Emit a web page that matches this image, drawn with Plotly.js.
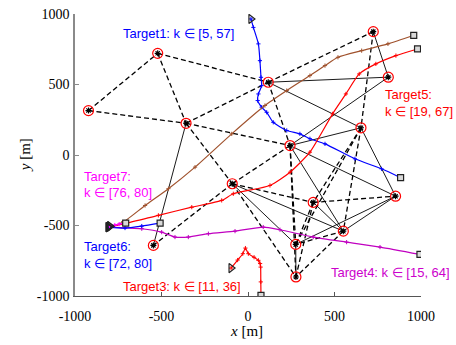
<!DOCTYPE html>
<html><head><meta charset="utf-8">
<script src="https://cdn.plot.ly/plotly-3.0.1.min.js"></script>
<style>html,body{margin:0;padding:0;background:#fff}#chart{width:456px;height:345px}</style>
</head><body><div id="chart"></div>
<script>
// sensors
const sensorX = [-922, -522, -358, 117, 724, 811, 653, 243, -91, 377, 551, 853, 276, 277, -547];
const sensorY = [315, 721, 225, 516, 875, 552, 193, 67, -204, -336, -540, -292, -634, -865, -641];
// links (1-based sensor indices)
const dashedEdges = [[1,2],[1,3],[2,3],[2,4],[3,4],[3,8],[3,9],[4,5],[4,8],[5,7],[7,11],[7,10],[8,9],[8,13],[8,14],[9,10],[9,14],[9,15],[10,12],[10,13],[10,14],[11,13],[11,14],[7,13]];
const solidEdges = [[3,15],[4,6],[4,7],[5,6],[6,8],[7,8],[7,12],[8,11],[8,12],[9,11],[9,13],[11,12],[12,13],[13,14],[10,11]];
// target tracks
const t1X = [17, 31, 60, 69, 75, 79, 60, 56, 79, 108, 146, 224, 300, 358, 445, 618, 772, 882];
const t1Y = [965, 905, 788, 669, 551, 492, 433, 386, 339, 303, 232, 174, 150, 115, 79, -27, -98, -161];
const t2X = [-797, -730, -595, -460, -306, -94, 98, 224, 358, 445, 520, 657, 809, 958];
const t2Y = [-506, -483, -358, -239, -86, 150, 351, 457, 563, 634, 693, 740, 788, 849];
const t3X = [-98, -60, -30, -15, 2, 35, 60, 70, 73, 74, 75];
const t3Y = [-802, -745, -700, -660, -700, -725, -747, -770, -795, -900, -995];
const t4X = [-809, -614, -499, -422, -345, -229, -75, 88, 185, 377, 570, 763, 994];
const t4Y = [-511, -523, -547, -582, -582, -558, -540, -511, -530, -582, -618, -653, -705];
const t5X = [-807, -711, -518, -325, -152, -85, 127, 243, 358, 489, 566, 643, 739, 855, 980];
const t5Y = [-511, -487, -428, -370, -322, -275, -216, -122, 20, 292, 433, 575, 646, 705, 752];
const t6X = [-807, -711, -614, -508];
const t6Y = [-511, -518, -504, -483];
const t7X = [-800, -770, -745, -725, -707];
const t7Y = [-505, -497, -490, -485, -483];
const tickVals = [-1000, -500, 0, 500, 1000];
const tickText = ['-1000', '-500', '0', '500', '1000'];

const tracks = [
  {x: t1X, y: t1Y, c: '#0000FF'},
  {x: t2X, y: t2Y, c: '#A0522D'},
  {x: t3X, y: t3Y, c: '#FF0000'},
  {x: t4X, y: t4Y, c: '#C000C0'},
  {x: t5X, y: t5Y, c: '#FF0000'},
  {x: t6X, y: t6Y, c: '#0000FF'},
  {x: t7X, y: t7Y, c: '#FF00FF'}
];

function edgeCoords(edges) {
  const xs = [], ys = [];
  edges.forEach(e => {
    xs.push(sensorX[e[0]-1], sensorX[e[1]-1], null);
    ys.push(sensorY[e[0]-1], sensorY[e[1]-1], null);
  });
  return {xs, ys};
}
const d = edgeCoords(dashedEdges), s = edgeCoords(solidEdges);
const traces = [
  {x: d.xs, y: d.ys, mode: 'lines', line: {color: '#000', width: 1.3, dash: '5px,3px'}, hoverinfo: 'skip'},
  {x: s.xs, y: s.ys, mode: 'lines', line: {color: '#000', width: 0.9}, hoverinfo: 'skip'}
];
tracks.forEach(t => {
  traces.push({x: t.x, y: t.y, mode: 'lines+markers', line: {color: t.c, width: 1.2, shape: 'spline', smoothing: 0.6},
    marker: {symbol: 'cross-thin-open', size: 3, line: {color: t.c, width: 1}}});
});
traces.push({x: tracks.map(t => t.x[0]), y: tracks.map(t => t.y[0]), mode: 'markers',
  marker: {symbol: 'triangle-right-open', size: 8, color: '#222', line: {width: 1.2}}});
traces.push({x: tracks.map(t => t.x[t.x.length-1]), y: tracks.map(t => t.y[t.y.length-1]), mode: 'markers',
  marker: {symbol: 'square', size: 6, color: '#d9d9d9', line: {color: '#222', width: 1.2}}});
traces.push({x: sensorX, y: sensorY, mode: 'markers',
  marker: {symbol: 'circle-open', size: 10, color: '#FF0000', line: {width: 1.2}}});
traces.push({x: sensorX, y: sensorY, mode: 'markers',
  marker: {symbol: 'asterisk-open', size: 5, color: '#000', line: {width: 1.1}}});

const tf = {family: 'Liberation Sans, Arial, sans-serif', size: 13};
function ann(x, y, text, color) {
  return {x, y, xref: 'x', yref: 'y', text, showarrow: false, xanchor: 'left', yanchor: 'middle',
    font: Object.assign({}, tf, {color})};
}
const serif = 'Liberation Serif, Times New Roman, serif';
const annotations = [
  ann(-734, 860, 'Target1: k ∈ [5, 57]', '#0000FF'),
  ann(439, 1007, 'Target2: k ∈ [8, 49]', '#A0522D'),
  ann(780, 428, 'Target5:', '#FF0000'),
  ann(780, 308, 'k ∈ [19, 67]', '#FF0000'),
  ann(-959, -152, 'Target7:', '#FF00FF'),
  ann(-959, -266, 'k ∈ [76, 80]', '#FF00FF'),
  ann(-959, -648, 'Target6:', '#0000FF'),
  ann(-959, -768, 'k ∈ [72, 80]', '#0000FF'),
  ann(-734, -931, 'Target3: k ∈ [11, 36]', '#FF0000'),
  ann(468, -830, 'Target4: k ∈ [15, 64]', '#CC00CC'),
  {x: 0.497, y: -0.124, xref: 'paper', yref: 'paper', xanchor: 'center', yanchor: 'middle',
    text: '<i>x</i> [m]', showarrow: false, font: {family: serif, size: 15, color: '#000'}},
  {x: -0.1445, y: 0.499, xref: 'paper', yref: 'paper', xanchor: 'center', yanchor: 'middle',
    text: '<i>y</i> [m]', showarrow: false, textangle: -90, font: {family: serif, size: 15, color: '#000'}}
];
const axBase = {range: [-1000, 1000], tickvals: tickVals, ticktext: tickText, ticks: 'inside', ticklen: 4,
  showgrid: false, zeroline: false, showline: true, mirror: false,
  tickfont: {family: serif, size: 14, color: '#000'}};
const layout = {
  width: 456, height: 345, margin: {l: 75, r: 35, t: 13.5, b: 49},
  showlegend: false, paper_bgcolor: '#fff', plot_bgcolor: '#fff',
  xaxis: Object.assign({}, axBase, {linecolor: '#555', linewidth: 1.2, tickcolor: '#555', ticklabelstandoff: 7}),
  yaxis: Object.assign({}, axBase, {linecolor: '#8a8a8a', linewidth: 1.8, tickcolor: '#8a8a8a', ticklabelstandoff: 1}),
  annotations
};
Plotly.newPlot('chart', traces, layout, {staticPlot: true, displayModeBar: false});
</script></body></html>
